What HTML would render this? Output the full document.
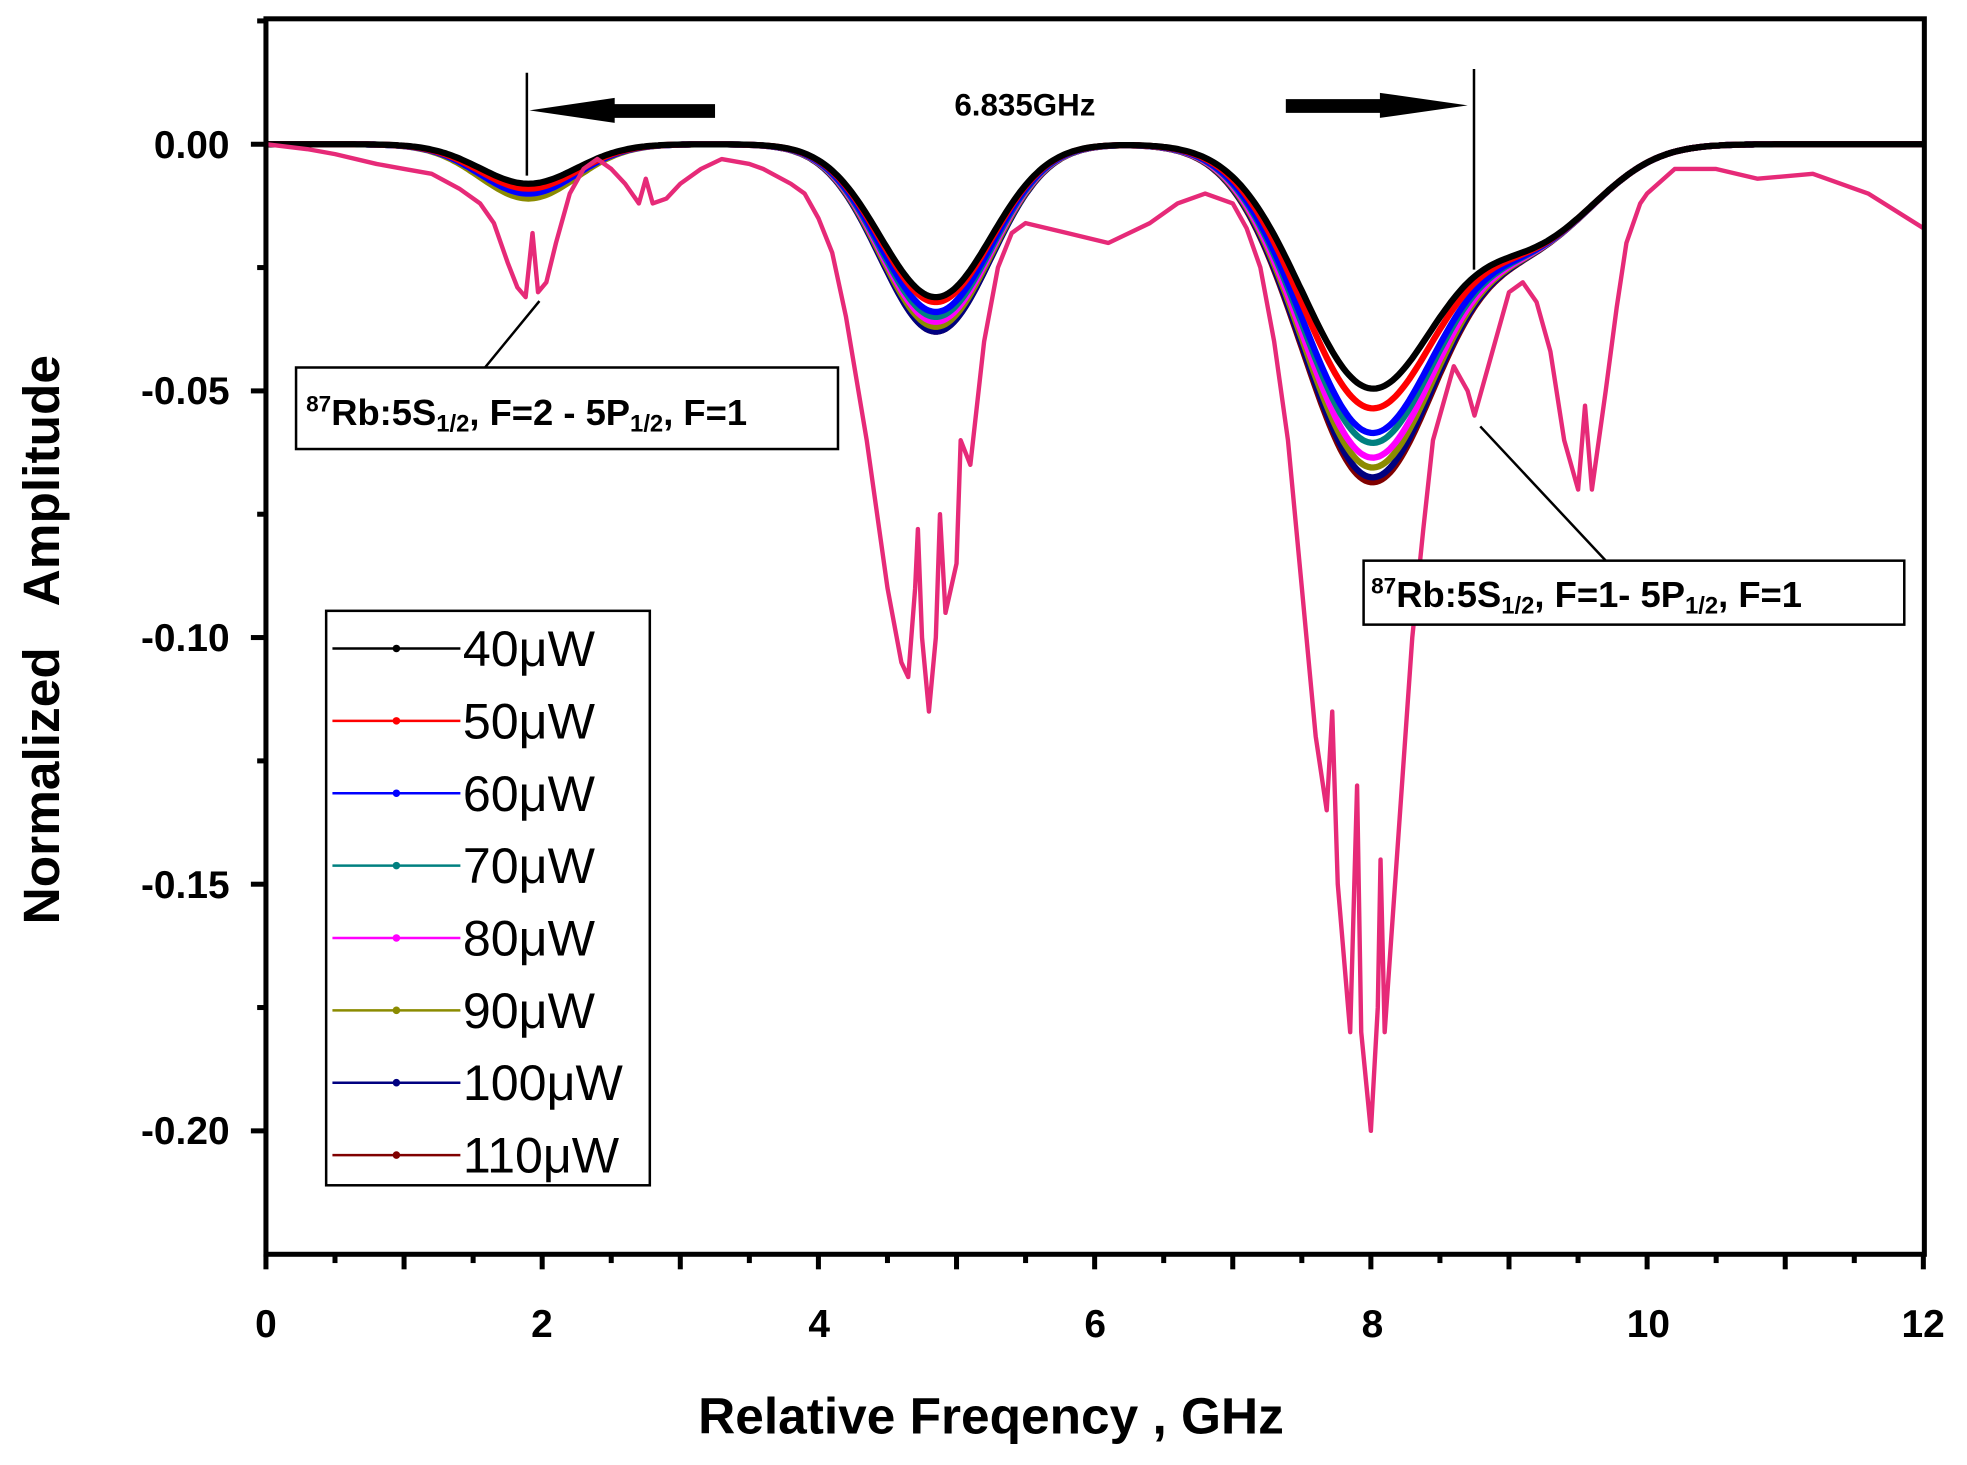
<!DOCTYPE html>
<html><head><meta charset="utf-8"><style>
html,body{margin:0;padding:0;background:#fff;width:1967px;height:1465px;overflow:hidden}
svg{display:block}
text{font-family:"Liberation Sans",sans-serif}
</style></head><body>
<svg id="s" width="1967" height="1465" viewBox="0 0 1568 1168" preserveAspectRatio="none" xmlns="http://www.w3.org/2000/svg">
<rect width="1568" height="1168" fill="#fff"/>
<g id="curves"></g>
<g id="axes" stroke="#000" fill="none">
<rect x="212" y="15" width="1322" height="985" stroke-width="4"/>
</g>
<g id="ticks" stroke="#000" stroke-width="4"></g>
<g font-weight="bold" font-size="31" text-anchor="end" fill="#000">
<text x="183" y="126">0.00</text>
<text x="183" y="322">-0.05</text>
<text x="183" y="519">-0.10</text>
<text x="183" y="716">-0.15</text>
<text x="183" y="912">-0.20</text>
</g>
<g font-weight="bold" font-size="31" text-anchor="middle" fill="#000">
<text x="212" y="1066">0</text>
<text x="432" y="1066">2</text>
<text x="653" y="1066">4</text>
<text x="873" y="1066">6</text>
<text x="1094" y="1066">8</text>
<text x="1314" y="1066">10</text>
<text x="1533" y="1066">12</text>
</g>
<text x="790" y="1143" font-weight="bold" font-size="41" text-anchor="middle">Relative Freqency , GHz</text>
<text transform="translate(47,510) rotate(-90)" font-weight="bold" font-size="41" text-anchor="middle" xml:space="preserve">Normalized   Amplitude</text>
<!-- annotations -->
<g stroke="#000" stroke-width="2">
<line x1="420" y1="58" x2="420" y2="140"/>
<line x1="1175" y1="55" x2="1175" y2="215"/>
<line x1="385" y1="295" x2="430" y2="240"/>
<line x1="1280" y1="447" x2="1180" y2="340"/>
</g>
<path d="M422,88 L490,78 L490,83 L570,83 L570,94 L490,94 L490,98 Z" fill="#000"/>
<path d="M1170,84 L1100,74 L1100,79 L1025,79 L1025,90 L1100,90 L1100,94 Z" fill="#000"/>
<text x="817" y="92" font-weight="bold" font-size="25" text-anchor="middle">6.835GHz</text>
<rect x="236" y="293" width="432" height="65" fill="#fff" stroke="#000" stroke-width="2"/>
<text x="244" y="339" font-weight="bold" font-size="29"><tspan font-size="18" dy="-11">87</tspan><tspan dy="11">Rb:5S</tspan><tspan font-size="19" dy="5">1/2</tspan><tspan dy="-5">, F=2 - 5P</tspan><tspan font-size="19" dy="5">1/2</tspan><tspan dy="-5">, F=1</tspan></text>
<rect x="1087" y="447" width="431" height="51" fill="#fff" stroke="#000" stroke-width="2"/>
<text x="1093" y="484" font-weight="bold" font-size="29"><tspan font-size="18" dy="-11">87</tspan><tspan dy="11">Rb:5S</tspan><tspan font-size="19" dy="5">1/2</tspan><tspan dy="-5">, F=1- 5P</tspan><tspan font-size="19" dy="5">1/2</tspan><tspan dy="-5">, F=1</tspan></text>
<!-- legend -->
<rect x="260" y="487" width="258" height="458" fill="#fff" stroke="#000" stroke-width="2"/>
<g id="legend" font-size="40" fill="#000"></g>
</svg>
<script>
var X=function(v){return 212+v*110.1;}, Y=function(v){return 115-v*3933;};
var NS="http://www.w3.org/2000/svg";
function el(tag,attrs,parent){var e=document.createElementNS(NS,tag);for(var k in attrs)e.setAttribute(k,attrs[k]);parent.appendChild(e);return e;}
var ticks=document.getElementById('ticks');
for(var i=0;i<=24;i++){var x=X(i*0.5);var L=(i%2==0)?12:7;el('line',{x1:x,y1:1000,x2:x,y2:1000+L},ticks);}
for(var i=0;i<=9;i++){var v=0.025-i*0.025;var y=Y(v);var L=(i%2==1)?12:7;el('line',{x1:212,y1:y,x2:212-L,y2:y},ticks);}
function G(x,c,s){return Math.exp(-(x-c)*(x-c)/(2*s*s));}
var series=[
["#800000",.038,.068,.010],["#000080",.038,.067,.010],["#8b8b00",.037,.065,.011],["#ff00ff",.036,.063,.010],
["#008080",.035,.060,.010],["#0000ff",.034,.058,.010],["#ff0000",.032,.053,.009],["#000000",.031,.049,.008]];
var cg=document.getElementById('curves');
series.forEach(function(s){
 var d="";for(var i=0;i<=600;i++){var x=i*0.02;
  var y=-(s[3]*G(x,1.9,0.35)+s[1]*G(x,4.85,0.4)+s[2]*G(x,8.0,0.5)+0.018*G(x,9.2,0.45));
  d+=(i?"L":"M")+X(x).toFixed(1)+","+Y(y).toFixed(1);}
 el('path',{d:d,stroke:s[0],"stroke-width":5,fill:"none"},cg);
});
var P=[[0,0],[0.3,-0.001],[0.5,-0.002],[0.8,-0.004],[1.0,-0.005],[1.2,-0.006],[1.4,-0.009],[1.55,-0.012],[1.65,-0.016],[1.75,-0.024],[1.82,-0.029],[1.88,-0.031],[1.93,-0.018],[1.97,-0.03],[2.03,-0.028],[2.1,-0.02],[2.2,-0.01],[2.3,-0.005],[2.4,-0.003],[2.5,-0.005],[2.6,-0.008],[2.7,-0.012],[2.75,-0.007],[2.8,-0.012],[2.9,-0.011],[3.0,-0.008],[3.15,-0.005],[3.3,-0.003],[3.5,-0.004],[3.6,-0.005],[3.8,-0.008],[3.9,-0.01],[4.0,-0.015],[4.1,-0.022],[4.2,-0.035],[4.35,-0.06],[4.5,-0.09],[4.6,-0.105],[4.65,-0.108],[4.7,-0.09],[4.72,-0.078],[4.75,-0.1],[4.8,-0.115],[4.85,-0.1],[4.88,-0.075],[4.92,-0.095],[5.0,-0.085],[5.03,-0.06],[5.1,-0.065],[5.2,-0.04],[5.3,-0.025],[5.4,-0.018],[5.5,-0.016],[5.8,-0.018],[6.1,-0.02],[6.4,-0.016],[6.6,-0.012],[6.8,-0.01],[7.0,-0.012],[7.1,-0.017],[7.2,-0.025],[7.3,-0.04],[7.4,-0.06],[7.5,-0.09],[7.6,-0.12],[7.68,-0.135],[7.72,-0.115],[7.76,-0.15],[7.85,-0.18],[7.9,-0.13],[7.93,-0.18],[8.0,-0.2],[8.05,-0.175],[8.07,-0.145],[8.1,-0.18],[8.2,-0.14],[8.3,-0.1],[8.38,-0.078],[8.45,-0.06],[8.6,-0.045],[8.7,-0.05],[8.75,-0.055],[8.85,-0.045],[8.95,-0.035],[9.0,-0.03],[9.1,-0.028],[9.2,-0.032],[9.3,-0.042],[9.4,-0.06],[9.5,-0.07],[9.55,-0.053],[9.6,-0.07],[9.7,-0.05],[9.78,-0.033],[9.85,-0.02],[9.95,-0.012],[10.0,-0.01],[10.2,-0.005],[10.5,-0.005],[10.8,-0.007],[11.2,-0.006],[11.6,-0.01],[12,-0.017]];
var d="";P.forEach(function(p,i){d+=(i?"L":"M")+X(p[0]).toFixed(1)+","+Y(p[1]).toFixed(1);});
el('path',{d:d,stroke:"#e62a78","stroke-width":3.5,fill:"none","stroke-linejoin":"round"},cg);
var lg=document.getElementById('legend');
var labs=["40","50","60","70","80","90","100","110"],cols=["#000000","#ff0000","#0000ff","#008080","#ff00ff","#8b8b00","#000080","#800000"];
labs.forEach(function(l,i){var y=517+i*57.7;
 el('line',{x1:265,y1:y,x2:367,y2:y,stroke:cols[i],"stroke-width":2},lg);
 el('circle',{cx:316,cy:y,r:3,fill:cols[i]},lg);
 var t=el('text',{x:369,y:y+14},lg);t.textContent=l+"\u03bcW";});
</script>
</body></html>
